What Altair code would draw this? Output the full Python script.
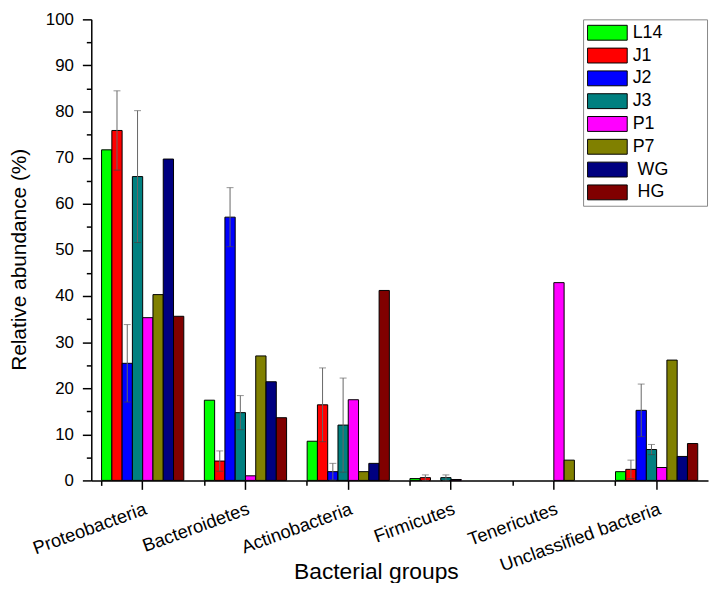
import altair as alt
import pandas as pd

groups = ["Proteobacteria", "Bacteroidetes", "Actinobacteria", "Firmicutes",
          "Tenericutes", "Unclassified bacteria"]
series = ["L14", "J1", "J2", "J3", "P1", "P7", "WG", "HG"]
colors = ["#00ff00", "#ff0000", "#0000ff", "#008080", "#ff00ff", "#808000",
          "#000080", "#800000"]

L14 = [71.7, 17.4, 8.5, 0.4, 0.0, 1.9]
J1 = [75.9, 4.2, 16.4, 0.6, 0.0, 2.4]
J2 = [25.4, 57.1, 1.9, 0.0, 0.0, 15.2]
J3 = [65.9, 14.7, 12.0, 0.6, 0.0, 6.7]
P1 = [35.3, 1.0, 17.5, 0.2, 42.9, 2.8]
P7 = [40.3, 27.0, 1.9, 0.0, 4.4, 26.1]
WG = [69.7, 21.4, 3.7, 0.0, 0.0, 5.2]
HG = [35.6, 13.6, 41.2, 0.0, 0.0, 8.0]

J1_sd = [8.6, 2.2, 8.0, 0.6, 0.0, 2.0]
J2_sd = [8.4, 6.4, 1.8, 0.0, 0.0, 5.7]
J3_sd = [14.3, 3.7, 10.2, 0.6, 0.0, 1.1]

values = {"L14": L14, "J1": J1, "J2": J2, "J3": J3,
          "P1": P1, "P7": P7, "WG": WG, "HG": HG}
sds = {"J1": J1_sd, "J2": J2_sd, "J3": J3_sd}

rows = []
for gi, g in enumerate(groups):
    for s in series:
        rows.append({"group": g, "series": s, "value": values[s][gi]})
df = pd.DataFrame(rows)
df_bar = df[df["value"] > 0]

err_rows = []
for s, sdl in sds.items():
    for gi, g in enumerate(groups):
        if sdl[gi] > 0:
            v = values[s][gi]
            err_rows.append({"group": g, "series": s,
                             "lo": max(v - sdl[gi], 0.0), "hi": v + sdl[gi]})
df_err = pd.DataFrame(err_rows)

FONT = "Liberation Sans"
NBSP = "\u00a0"
ZW = "\u200b"

label_expr = ("'" + ZW + "' + (datum.label == 'WG' || datum.label == 'HG' ? '"
              + NBSP + "' : '') + datum.label + '" + NBSP * 7 + ZW + "'")

xoff = alt.XOffset("series:N", sort=series,
                   scale=alt.Scale(domain=series, paddingInner=0, paddingOuter=0))

bars = alt.Chart(df_bar).mark_bar(stroke="black", strokeWidth=1).encode(
    x=alt.X("group:N", sort=groups,
            scale=alt.Scale(domain=groups, paddingInner=0.2, paddingOuter=0.1),
            axis=alt.Axis(orient="bottom", title="Bacterial groups",
                          labelAngle=-20, labelFontSize=18.5, tickSize=9,
                          labelPadding=10, titleFontSize=23,
                          titleFontWeight="normal", titleX=287, titleY=99,
                          titleBaseline="alphabetic")),
    xOffset=xoff,
    y=alt.Y("value:Q", scale=alt.Scale(domain=[0, 100], nice=False),
            axis=alt.Axis(orient="left", values=list(range(0, 101, 10)),
                          tickSize=9, labelPadding=9, labelFontSize=17,
                          title="Relative abundance (%)", titleFontSize=21,
                          titleFontWeight="normal", titleX=-66, titleY=242,
                          titleAngle=-90, titleBaseline="alphabetic")),
    color=alt.Color("series:N", sort=series,
                    scale=alt.Scale(domain=series, range=colors),
                    legend=alt.Legend(title=None, orient="none", legendX=496,
                                      legendY=0, labelExpr=label_expr)),
)

rules = alt.Chart(df_err).mark_rule(color="#666666", strokeWidth=1).encode(
    x=alt.X("group:N", sort=groups,
            axis=alt.Axis(orient="bottom", bandPosition=0, tickSize=5,
                          labels=False, domain=False, title=None)),
    xOffset=xoff,
    y=alt.Y("lo:Q", axis=alt.Axis(orient="left",
                                  values=list(range(5, 100, 10)), tickSize=5,
                                  labels=False, domain=False, title=None)),
    y2="hi:Q",
)

caps_hi = alt.Chart(df_err).mark_tick(color="#666666", size=7, thickness=1).encode(
    x=alt.X("group:N", sort=groups, axis=None),
    xOffset=xoff,
    y=alt.Y("hi:Q", axis=None),
)
caps_lo = alt.Chart(df_err).mark_tick(color="#444444", size=7, thickness=1).encode(
    x=alt.X("group:N", sort=groups, axis=None),
    xOffset=xoff,
    y=alt.Y("lo:Q", axis=None),
)

chart = alt.layer(bars, rules, caps_hi, caps_lo).resolve_axis(
    x="independent", y="independent"
).properties(
    width=622, height=465,
    autosize=alt.AutoSizeParams(type="none"),
    padding={"left": 84, "top": 9, "right": 2, "bottom": 101},
).configure_view(stroke=None).configure_axis(
    domainColor="black", tickColor="black", labelColor="black",
    titleColor="black", labelFont=FONT, titleFont=FONT, grid=False,
    domainWidth=1.5, tickWidth=1.5,
).configure_legend(
    labelFont=FONT, labelFontSize=18, labelColor="black",
    symbolType="M-1,-0.375H1V0.375H-1Z", symbolSize=1600,
    symbolStrokeColor="black", symbolStrokeWidth=1, symbolOpacity=1,
    strokeColor="#888888", fillColor="white", padding=4, labelOffset=5,
    rowPadding=4, clipHeight=19,
)

chart.save("out.html", embed_options={"renderer": "svg", "actions": False})
